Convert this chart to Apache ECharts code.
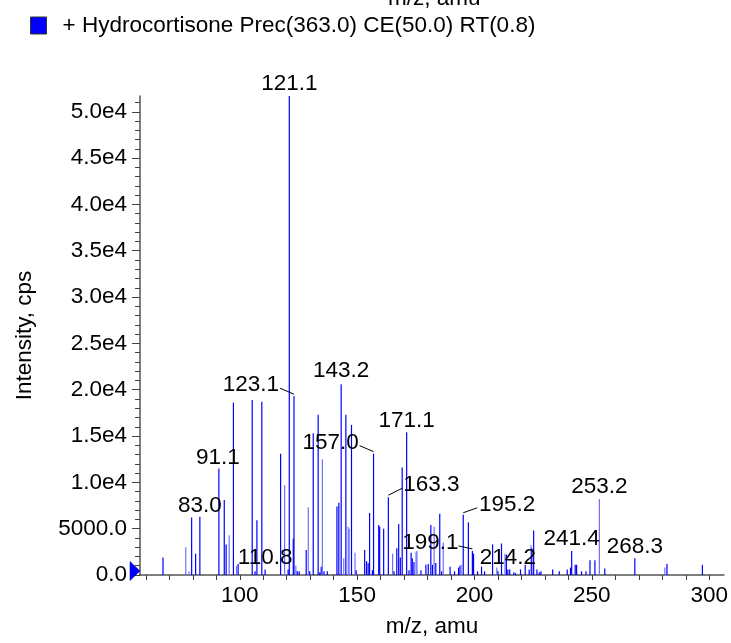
<!DOCTYPE html>
<html><head><meta charset="utf-8">
<script src="https://cdn.jsdelivr.net/npm/echarts@6/dist/echarts.min.js"></script>
<style>html,body{margin:0;padding:0;background:#fff;overflow:hidden;width:731px;height:643px;}#c{width:731px;height:643px;position:absolute;left:0;top:0;}</style>
</head><body><div id="c"></div>
<script>
// ---- data ----
const seriesName = '+ Hydrocortisone Prec(363.0) CE(50.0) RT(0.8)';
const peakMz = [67.3,77.0,78.4,79.5,81.2,83.0,91.1,93.4,94.2,95.5,97.3,98.6,99.3,105.3,106.5,107.3,109.4,110.8,117.4,119.1,120.6,121.1,122.8,123.1,123.9,124.5,125.3,128.3,129.2,129.8,131.3,133.4,134.1,134.7,135.2,135.9,137.3,141.4,142.2,143.2,144.3,145.2,146.2,146.6,147.6,149.1,149.6,153.2,154.0,154.7,155.3,156.5,157.0,159.2,159.6,161.3,163.3,165.1,165.7,166.9,167.7,168.4,169.2,171.1,172.1,173.0,173.5,174.2,175.1,175.5,177.2,179.3,180.3,181.4,182.1,182.8,183.5,185.2,186.0,186.7,189.6,191.5,193.2,193.8,194.3,195.2,197.4,199.1,199.6,201.3,203.0,204.3,207.7,209.5,210.0,211.5,213.0,213.6,214.2,215.0,216.8,217.5,219.6,221.6,223.3,224.1,224.4,225.2,226.6,227.6,228.3,233.3,236.1,239.5,240.9,241.4,242.9,243.5,245.6,247.5,249.2,251.3,253.2,255.5,268.3,281.1,282.0,297.1];
const peakIntensity = [1900,3000,400,6200,2300,6300,11500,8100,3300,4300,18600,1000,1200,18900,400,5900,18700,600,13100,9700,600,51700,3900,19300,1000,400,400,2700,7300,400,15300,17300,300,900,12500,400,400,7400,7800,20600,1800,17300,5200,5000,16200,2400,500,2700,1500,1300,6700,500,13100,5400,5200,5000,8400,2300,400,2900,5500,1900,11600,15400,500,2400,1800,1400,2500,2600,500,1100,1200,5400,1100,5200,1300,6600,400,3500,900,400,800,1000,1100,6500,5700,2600,2300,400,900,400,3300,800,400,3400,2300,2200,600,600,300,200,600,1100,600,3200,2900,4800,600,300,400,600,400,600,800,2600,1100,1100,400,400,1600,1600,8200,700,1800,800,1200,1100];
const faintMz = [77.0,78.4,95.5,98.6,119.1,123.9,129.2,135.2,144.3,146.2,146.6,149.1,165.1,175.1,175.5,182.8,186.7,194.3,209.5,213.0,224.1,253.2,281.1];
const labelMz = [121.1,123.1,143.2,157.0,171.1,91.1,163.3,83.0,195.2,253.2,241.4,199.1,268.3,214.2,110.8];
const labelText = ['121.1','123.1','143.2','157.0','171.1','91.1','163.3','83.0','195.2','253.2','241.4','199.1','268.3','214.2','110.8'];
const xTickValues = [60,70,80,90,100,110,120,130,140,150,160,170,180,190,200,210,220,230,240,250,260,270,280,290,300];
const xLabelValues = [100,150,200,250,300];
const yMajorValues = [0,5000,10000,15000,20000,25000,30000,35000,40000,45000,50000];
const yMinorValues = [1000,2000,3000,4000,6000,7000,8000,9000,11000,12000,13000,14000,16000,17000,18000,19000,21000,22000,23000,24000,26000,27000,28000,29000,31000,32000,33000,34000,36000,37000,38000,39000,41000,42000,43000,44000,46000,47000,48000,49000,51000];
const xMin = 57.5, xMax = 306.3, yMax = 51700;

// ---- layout / style (not data) ----
// [dx, dy, leaderSide]  leaderSide: 0 none, -1 label on left, 1 label on right
const labelLayout = [[0,-12,0],[-43,-11,-1],[0,-13,0],[-43,-11,-1],[0,-12,0],[-1,-11,0],[43,-12,1],[0,-11,0],[44,-10,1],[0,-12,0],[0,-12,0],[-42,-8,-1],[0,-12,0],[0,-12,0],[0,-12,0]];
const FONT = '"Liberation Sans", Arial, Helvetica, sans-serif';
const FS = 22.5;
const BLUE = '#0000ff', FAINT = '#7070ff';

const barData = peakMz.map((m, i) => ({
  value: [m, peakIntensity[i]],
  itemStyle: { color: faintMz.indexOf(m) >= 0 ? FAINT : BLUE }
}));
const labelData = labelMz.map(m => {
  let best = 0;
  peakMz.forEach((p, i) => { if (Math.abs(p - m) < Math.abs(peakMz[best] - m)) best = i; });
  return [m, peakIntensity[best]];
});

function renderLabel(params, api) {
  const i = params.dataIndex;
  const p = api.coord([api.value(0), api.value(1)]);
  const L = labelLayout[i];
  const children = [{
    type: 'text',
    style: { text: labelText[i], x: p[0] + L[0], y: p[1] + L[1], align: 'center', verticalAlign: 'middle',
             fontSize: FS, fontFamily: FONT, fill: '#000' }
  }];
  if (L[2]) {
    children.push({ type: 'line',
      shape: { x1: p[0] + L[2] * 14, y1: p[1] + L[1] + 3, x2: p[0], y2: p[1] - 2 },
      style: { stroke: '#000', lineWidth: 1 } });
  }
  return { type: 'group', children };
}

const chart = echarts.init(document.getElementById('c'), null, { renderer: 'canvas', width: 731, height: 643 });
chart.setOption({
  animation: false,
  backgroundColor: '#fff',
  textStyle: { fontFamily: FONT },
  legend: {
    left: 25, top: 9, icon: 'rect', itemWidth: 16, itemHeight: 17,
    itemStyle: { borderColor: '#333', borderWidth: 1 },
    textStyle: { fontSize: FS, color: '#000', fontFamily: FONT, padding: [8, 0, 0, 11] },
    data: [seriesName]
  },
  graphic: [{
    type: 'text', left: 388, top: -13,
    style: { text: 'm/z, amu', fontSize: FS, fontFamily: FONT, fill: '#000' }
  }],
  grid: { left: 140, right: 0, top: 96, bottom: 59, containLabel: false },
  xAxis: {
    type: 'value', min: xMin, max: xMax,
    name: 'm/z, amu', nameLocation: 'middle', nameGap: 40,
    nameTextStyle: { fontSize: FS, color: '#000', fontFamily: FONT },
    axisLine: { show: true, onZero: false, lineStyle: { color: '#555', width: 1.5 } },
    axisTick: { show: true, customValues: xTickValues, length: 5, lineStyle: { color: '#444', width: 1 } },
    axisLabel: { customValues: xLabelValues, fontSize: FS, color: '#000', margin: 9, fontFamily: FONT,
                 formatter: v => String(v) },
    splitLine: { show: false }
  },
  yAxis: [{
    type: 'value', min: 0, max: yMax, position: 'left',
    name: 'Intensity, cps', nameLocation: 'middle', nameGap: 104,
    nameTextStyle: { fontSize: FS, color: '#000', fontFamily: FONT },
    axisLine: { show: true, lineStyle: { color: '#555', width: 1.5 } },
    axisTick: { show: true, customValues: yMajorValues, length: 8, lineStyle: { color: '#444', width: 1 } },
    axisLabel: { customValues: yMajorValues, fontSize: FS, color: '#000', margin: 13, fontFamily: FONT,
      formatter: v => v === 0 ? '0.0' : (v < 10000 ? v.toFixed(1) : (v / 10000).toFixed(1) + 'e4') },
    splitLine: { show: false }
  }, {
    type: 'value', min: 0, max: yMax, position: 'left', offset: 0,
    axisLine: { show: false },
    axisTick: { show: true, customValues: yMinorValues, length: 5, lineStyle: { color: '#444', width: 1 } },
    axisLabel: { show: false },
    splitLine: { show: false }
  }],
  series: [{
    name: seriesName, type: 'bar', data: barData, barWidth: 1.2,
    itemStyle: { color: BLUE }, xAxisIndex: 0, yAxisIndex: 0, silent: true
  }, {
    type: 'custom', data: labelData, renderItem: renderLabel, clip: false, silent: true, z: 5
  }, {
    type: 'scatter', data: [[xMin, 0]], symbol: 'triangle', symbolSize: [19, 10], symbolRotate: -90,
    symbolOffset: [-5, -4], clip: false, silent: true, z: 6,
    itemStyle: { color: BLUE, borderColor: '#00008b', borderWidth: 0.5, opacity: 1 }
  }]
});
</script>
</body></html>
